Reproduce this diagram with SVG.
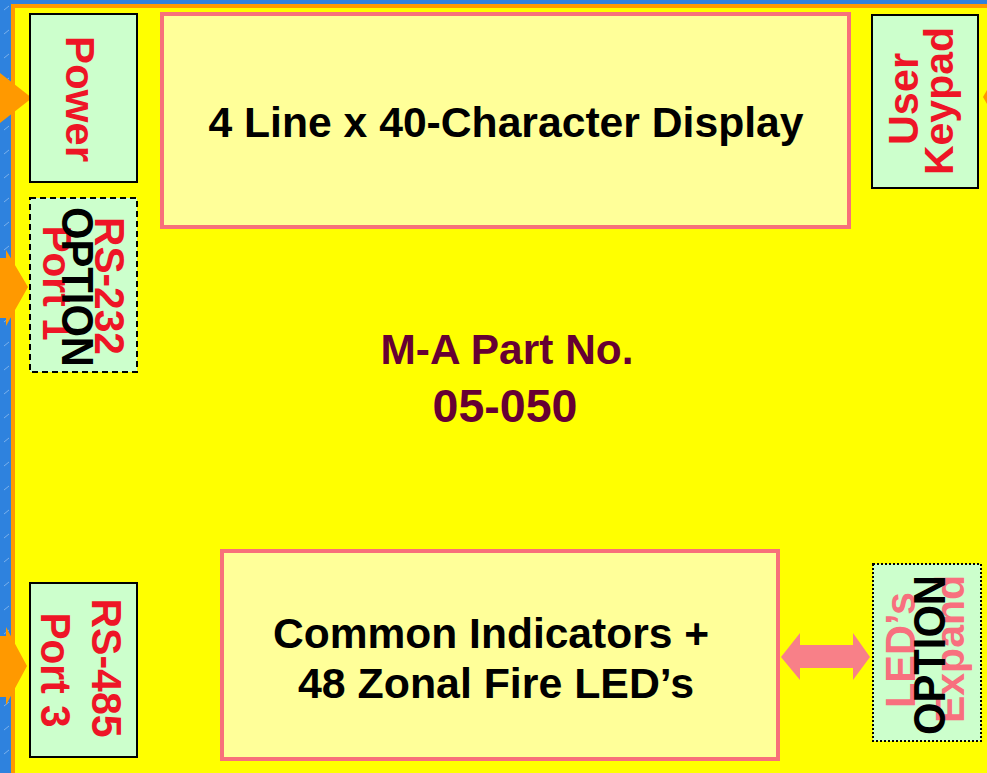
<svg xmlns="http://www.w3.org/2000/svg" width="987" height="773" viewBox="0 0 987 773">
<defs>
<pattern id="bgp" width="24" height="24" patternUnits="userSpaceOnUse">
<rect width="24" height="24" fill="#2E82DE"/>
<line x1="4" y1="10" x2="9" y2="6" stroke="#9CC4F0" stroke-width="0.7"/>
<line x1="16" y1="22" x2="21" y2="18" stroke="#9CC4F0" stroke-width="0.7"/>
</pattern>
</defs>
<style>
.box{fill:#CCFFCC;stroke:#000;stroke-width:2}
.big{fill:#FFFF99;stroke:#F8707A;stroke-width:4}
.t{font-family:"Liberation Sans",Arial,sans-serif;font-weight:bold}
.red{fill:#EE1526}
.pink{fill:#F8707E}
.blk{fill:#000}
.mar{fill:#660033}
.arr{fill:#FF9900}
</style>
<rect width="987" height="773" fill="url(#bgp)"/>
<rect x="13" y="6" width="1000" height="800" fill="#FFFF00" stroke="#FF9900" stroke-width="4"/>

<g id="connectors">
<polygon class="arr" points="0,73 32,98 0,123"/>
<polygon class="arr" points="0,258 6,258 6,250 28,287 6,326 6,318 0,318"/>
<polygon class="arr" points="0,636 6,636 6,627 27,666 6,705 6,697 0,697"/>
<polygon class="arr" points="983,97 987,90 987,104"/>
<polygon fill="#F88088" points="781,657 800,633 800,645 853,645 853,633 870,657 853,680 853,668 800,668 800,680"/>
</g>

<g id="display">
<rect class="big" x="162" y="14" width="687" height="213"/>
<text class="t blk" x="506" y="137" font-size="42" text-anchor="middle" textLength="595" lengthAdjust="spacingAndGlyphs">4 Line x 40-Character Display</text>
</g>

<g id="indicators">
<rect class="big" x="222" y="551" width="556" height="208"/>
<text class="t blk" x="491" y="648" font-size="42" text-anchor="middle" textLength="436" lengthAdjust="spacingAndGlyphs">Common Indicators +</text>
<text class="t blk" x="496" y="698" font-size="42" text-anchor="middle" textLength="396" lengthAdjust="spacingAndGlyphs">48 Zonal Fire LED’s</text>
</g>

<g id="part">
<text class="t mar" x="507" y="364" font-size="42" text-anchor="middle" textLength="253" lengthAdjust="spacingAndGlyphs">M-A Part No.</text>
<text class="t mar" x="505" y="422" font-size="47" text-anchor="middle" textLength="145" lengthAdjust="spacingAndGlyphs">05-050</text>
</g>

<g id="power">
<rect class="box" x="30" y="14" width="107" height="168"/>
<text class="t red" transform="translate(66,99) rotate(90)" font-size="40" text-anchor="middle" textLength="126" lengthAdjust="spacingAndGlyphs">Power</text>
</g>

<g id="rs232">
<rect class="box" x="30" y="198" width="107" height="174" stroke-dasharray="6,4"/>
<text class="t red" transform="translate(95,286) rotate(90)" font-size="42" text-anchor="middle" textLength="138" lengthAdjust="spacingAndGlyphs">RS-232</text>
<text class="t red" transform="translate(43,283) rotate(90)" font-size="40" text-anchor="middle" textLength="115" lengthAdjust="spacingAndGlyphs">Port 1</text>
<text class="t blk" transform="translate(62,287) rotate(90)" font-size="44" text-anchor="middle" textLength="160" lengthAdjust="spacingAndGlyphs">OPTION</text>
</g>

<g id="keypad">
<rect class="box" x="872" y="15" width="106" height="173"/>
<text class="t red" transform="translate(918,99) rotate(-90)" font-size="42" text-anchor="middle" textLength="92" lengthAdjust="spacingAndGlyphs">User</text>
<text class="t red" transform="translate(953,101) rotate(-90)" font-size="40" text-anchor="middle" textLength="148" lengthAdjust="spacingAndGlyphs">Keypad</text>
</g>

<g id="rs485">
<rect class="box" x="30" y="583" width="107" height="174"/>
<text class="t red" transform="translate(92,668) rotate(90)" font-size="42" text-anchor="middle" textLength="139" lengthAdjust="spacingAndGlyphs">RS-485</text>
<text class="t red" transform="translate(41,670) rotate(90)" font-size="42" text-anchor="middle" textLength="115" lengthAdjust="spacingAndGlyphs">Port 3</text>
</g>

<g id="leds">
<rect class="box" x="873" y="564" width="108" height="177" stroke-dasharray="2,2"/>
<text class="t pink" transform="translate(915,650) rotate(-90)" font-size="42" text-anchor="middle" textLength="116" lengthAdjust="spacingAndGlyphs">LED’s</text>
<text class="t pink" transform="translate(964,649) rotate(-90)" font-size="40" text-anchor="middle" textLength="148" lengthAdjust="spacingAndGlyphs">Expand</text>
<text class="t blk" transform="translate(945,655) rotate(-90)" font-size="44" text-anchor="middle" textLength="160" lengthAdjust="spacingAndGlyphs">OPTION</text>
</g>
</svg>
